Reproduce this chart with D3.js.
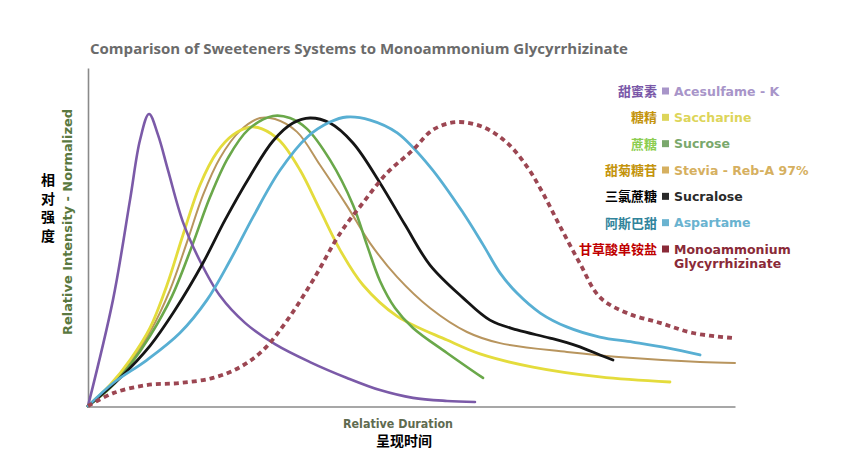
<!DOCTYPE html>
<html><head><meta charset="utf-8">
<script src="https://cdn.jsdelivr.net/npm/d3@7/dist/d3.min.js"></script>
<style>body{margin:0;background:#fff}svg{display:block}</style>
</head><body><svg id="c" width="849" height="464"></svg>
<script>
// ---------- data ----------
const chartTitle = "Comparison of Sweeteners Systems to Monoammonium Glycyrrhizinate";
const xAxisLabel = "Relative Duration";
const xAxisLabelZh = "呈现时间";
const yAxisLabel = "Relative Intensity - Normalized";
const yAxisLabelZh = ["相", "对", "强", "度"];

const seriesNames = ["Acesulfame - K", "Saccharine", "Sucrose", "Stevia - Reb-A 97%", "Sucralose", "Aspartame", "Monoammonium|Glycyrrhizinate"];
const seriesNamesZh = ["甜蜜素", "糖精", "蔗糖", "甜菊糖苷", "三氯蔗糖", "阿斯巴甜", "甘草酸单铵盐"];

// x: relative duration (0-100), y: normalized intensity (0-100)
const acesulfameX = [0, 3.86, 6.49, 8.04, 9.43, 10.82, 12.36, 14.68, 17.31, 20.40, 24.27, 28.90, 34.31, 40.03, 45.13, 50.23, 55.49, 59.81];
const acesulfameY = [0, 31.4, 60.9, 78.7, 86.4, 80.2, 69.8, 54.4, 42.9, 32.6, 24.6, 18.3, 13.0, 8.3, 4.7, 2.4, 1.5, 1.2];

const saccharineX = [0, 3.40, 6.49, 9.58, 12.21, 14.68, 17.31, 19.94, 22.41, 25.04, 26.89, 29.68, 32.77, 35.86, 38.95, 42.50, 47.76, 55.49, 60.59, 68.78, 79.13, 89.95];
const saccharineY = [0, 6.2, 13.6, 23.1, 35.8, 50.6, 65.4, 75.1, 80.2, 82.5, 82.0, 78.4, 69.8, 58.0, 46.2, 35.8, 26.6, 19.5, 15.4, 11.5, 8.6, 7.1];

const sucroseX = [0, 3.40, 6.49, 9.58, 12.98, 16.07, 18.86, 21.64, 24.73, 28.59, 31.22, 33.85, 37.40, 40.96, 43.12, 45.13, 47.45, 50.23, 55.49, 61.05];
const sucroseY = [0, 5.3, 12.1, 20.7, 32.5, 47.3, 61.8, 73.4, 81.7, 85.8, 85.2, 82.0, 72.8, 59.5, 47.6, 37.0, 29.0, 23.1, 15.7, 8.3];

const steviaX = [0, 3.40, 6.49, 9.58, 12.67, 15.30, 17.77, 20.40, 23.49, 26.58, 28.90, 32.30, 35.86, 40.03, 43.59, 47.76, 52.86, 58.58, 63.68, 74.03, 84.23, 94.59, 100];
const steviaY = [0, 5.9, 13.0, 21.9, 34.3, 48.5, 62.4, 73.4, 81.4, 85.2, 84.9, 81.1, 71.3, 59.2, 48.2, 38.2, 29.0, 21.9, 18.6, 16.0, 14.2, 13.0, 12.7];

const sucraloseX = [0, 4.95, 9.58, 13.45, 17.77, 21.17, 25.04, 28.59, 31.68, 34.31, 37.40, 40.96, 45.13, 49.00, 52.86, 57.96, 62.13, 66.31, 71.41, 75.58, 79.13, 81.14];
const sucraloseY = [0, 8.3, 17.8, 28.4, 42.3, 55.0, 68.0, 78.4, 83.7, 85.2, 83.7, 77.8, 66.0, 53.6, 41.7, 32.0, 25.4, 22.5, 20.1, 17.8, 15.1, 13.6];

const aspartameX = [0, 3.9, 9.1, 14.2, 18.4, 22.0, 25.5, 29.7, 33.9, 37.4, 40.0, 43.6, 47.8, 52.9, 58.0, 61.1, 63.7, 66.3, 69.9, 74.0, 79.1, 84.2, 89.5, 94.6];
const aspartameY = [0, 6.8, 13.6, 21.6, 31.4, 43.2, 55.9, 69.8, 79.6, 84.0, 85.5, 84.6, 80.8, 70.7, 57.1, 47.6, 39.3, 33.4, 27.5, 23.4, 20.4, 18.9, 17.2, 15.1];

const glycyrrhizinateX = [0, 3.9, 9.1, 14.2, 19.3, 23.5, 27.1, 30.8, 34.8, 39.0, 42.5, 46.2, 50.2, 53.3, 57.0, 61.1, 64.8, 67.9, 70.3, 73.0, 76.0, 79.1, 83.3, 88.4, 93.5, 99.7];
const glycyrrhizinateY = [0, 3.8, 6.2, 6.8, 8.3, 11.5, 16.6, 25.4, 37.3, 51.2, 60.1, 68.9, 75.7, 81.7, 84.0, 82.5, 77.8, 70.7, 63.0, 53.0, 42.3, 32.2, 27.5, 24.6, 21.6, 20.1];

// ---------- styles ----------
const lineColors = ["#7b5aa8", "#e4dc3c", "#6aa84a", "#b8955e", "#151515", "#58afd3", "#9c4652"];
const lineWidths = [2.6, 2.8, 2.6, 2.0, 2.8, 2.8, 3.8];
const legendTextColors = ["#a895c9", "#ddd55a", "#7aa86c", "#d6b060", "#2a2a2a", "#6ab3d0", "#8a2a38"];
const zhColors = ["#7a58a8", "#c4940c", "#8ccd50", "#c4940c", "#000000", "#31849b", "#c00000"];

const seriesX = [acesulfameX, saccharineX, sucroseX, steviaX, sucraloseX, aspartameX, glycyrrhizinateX];
const seriesY = [acesulfameY, saccharineY, sucroseY, steviaY, sucraloseY, aspartameY, glycyrrhizinateY];

const svg = d3.select("#c");
const x = d3.scaleLinear().domain([0, 100]).range([88, 735]);
const y = d3.scaleLinear().domain([0, 100]).range([406, 68]);

function fit(sel, w) {
  sel.attr("textLength", w).attr("lengthAdjust", "spacingAndGlyphs");
}

// title
svg.append("text").attr("x", 90).attr("y", 54)
  .attr("font-family", "'Open Sans', sans-serif").attr("font-weight", 700)
  .attr("font-size", 14.5).attr("fill", "#6b6b6b")
  .text(chartTitle).call(fit, 538);

// axes (no ticks)
const xAxis = d3.axisBottom(x).tickValues([]).tickSizeOuter(0);
const yAxis = d3.axisLeft(y).tickValues([]).tickSizeOuter(0);
svg.append("g").attr("transform", "translate(0,406.5)").call(xAxis)
  .select(".domain").attr("stroke", "#8a8a8a").attr("stroke-width", 1.6);
svg.append("g").attr("transform", "translate(88,0)").call(yAxis)
  .select(".domain").attr("stroke", "#8a8a8a").attr("stroke-width", 1.6);

// lines
const line = d3.line().x(d => x(d[0])).y(d => y(d[1])).curve(d3.curveCatmullRom.alpha(0.5));
const drawOrder = [3, 1, 2, 0, 4, 5, 6];
drawOrder.forEach(i => {
  const pts = seriesX[i].map((v, k) => [v, seriesY[i][k]]);
  const p = svg.append("path").datum(pts).attr("d", line)
    .attr("fill", "none").attr("stroke", lineColors[i])
    .attr("stroke-width", lineWidths[i]).attr("stroke-linejoin", "round");
  if (i === 6) p.attr("stroke-dasharray", "5,4");
  else p.attr("stroke-linecap", "round");
});

// legend
const legendY = d3.scalePoint().domain(d3.range(7)).range([91, 249]);
const lg = svg.append("g");
d3.range(7).forEach(i => {
  const cy = legendY(i);
  lg.append("rect").attr("x", 662).attr("y", cy - 3.5).attr("width", 7).attr("height", 7)
    .attr("fill", legendTextColors[i]);
  const parts = seriesNames[i].split("|");
  parts.forEach((t, k) => {
    lg.append("text").attr("x", 674).attr("y", cy + 4.5 + k * 14)
      .attr("font-family", "'DejaVu Sans', Verdana, sans-serif").attr("font-weight", 700)
      .attr("font-size", 12.5).attr("fill", legendTextColors[i]).text(t);
  });
  lg.append("text").attr("x", 657).attr("y", cy + 5).attr("text-anchor", "end")
    .attr("font-family", "'Noto Sans CJK SC', sans-serif").attr("font-weight", 700)
    .attr("font-size", 13).attr("fill", zhColors[i]).text(seriesNamesZh[i]);
});

// y axis labels
svg.append("text").attr("transform", "translate(72,222) rotate(-90)")
  .attr("text-anchor", "middle")
  .attr("font-family", "'DejaVu Sans', Verdana, sans-serif").attr("font-weight", 700)
  .attr("font-size", 11.5).attr("fill", "#5a7840")
  .text(yAxisLabel).call(fit, 226);
yAxisLabelZh.forEach((c, k) => {
  svg.append("text").attr("x", 48).attr("y", 185 + k * 18.5).attr("text-anchor", "middle")
    .attr("font-family", "'Noto Sans CJK SC', sans-serif").attr("font-weight", 700)
    .attr("font-size", 14).attr("fill", "#000").text(c);
});

// x axis labels
svg.append("text").attr("x", 398).attr("y", 428).attr("text-anchor", "middle")
  .attr("font-family", "'DejaVu Sans', Verdana, sans-serif").attr("font-weight", 700)
  .attr("font-size", 11.5).attr("fill", "#5f6b50")
  .text(xAxisLabel).call(fit, 110);
svg.append("text").attr("x", 404).attr("y", 446).attr("text-anchor", "middle")
  .attr("font-family", "'Noto Sans CJK SC', sans-serif").attr("font-weight", 700)
  .attr("font-size", 14).attr("fill", "#000").text(xAxisLabelZh);
</script></body></html>
